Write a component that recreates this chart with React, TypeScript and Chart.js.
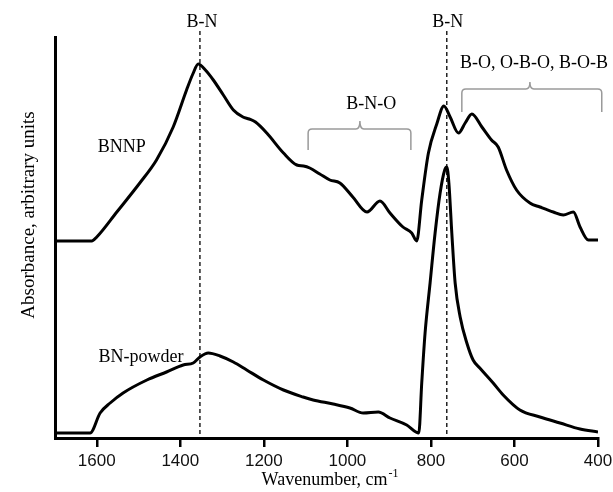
import React, { useEffect, useRef } from "react";
import { Chart, registerables } from "chart.js";

Chart.register(...registerables);

// Wavenumber (cm-1) and absorbance (arbitrary units)
const bnnpWavenumber = [1700, 1650, 1612, 1600, 1552, 1497, 1457, 1417, 1385, 1370, 1357, 1340, 1321, 1297, 1273, 1250, 1235, 1220, 1193, 1153, 1121, 1105, 1090, 1066, 1042, 1018, 987, 953, 922, 898, 867, 846, 834, 822, 806, 786, 769, 754, 734, 718, 702, 678, 655, 639, 619, 595, 563, 539, 507, 483, 459, 443, 423, 400];
const bnnpAbsorbance = [197, 197, 197, 201, 226, 255, 278, 311, 348, 364, 374, 368, 358, 343, 328, 321, 319, 316, 305, 285, 273, 272, 270, 264, 258, 255, 241, 226, 237, 225, 211, 205, 197, 238, 285, 314, 332, 321, 305, 315, 324, 311, 298, 291, 268, 248, 235, 231, 226, 223, 226, 211, 198, 198];

const powderWavenumber = [1700, 1650, 1616, 1592, 1568, 1537, 1480, 1433, 1393, 1369, 1353, 1333, 1305, 1273, 1241, 1201, 1153, 1106, 1082, 1034, 994, 962, 926, 898, 858, 829, 822, 814, 802, 790, 778, 767, 762, 757, 750, 742, 730, 714, 699, 683, 651, 627, 587, 539, 491, 443, 400];
const powderAbsorbance = [5, 5, 5, 25, 35, 45, 58, 66, 73, 75, 81, 85, 82, 76, 68, 58, 48, 41, 38, 34, 30, 25, 26, 20, 13, 5, 55, 105, 155, 205, 245, 268, 271, 255, 205, 155, 121, 95, 78, 70, 55, 43, 28, 21, 15, 9, 6];

// Dashed reference lines (B-N bands)
const bandWavenumbers = [1353, 762];
const bandSpan = [4, 408];

const xTickStep = 200;

// Annotation texts and braces, in data units
const labels = [
  { text: "B-N", x: 1348, y: 416 },
  { text: "B-N", x: 760, y: 416 },
  { text: "B-N-O", x: 943, y: 334 },
  { text: "B-O, O-B-O, B-O-B", x: 553, y: 375 },
  { text: "BNNP", x: 1540, y: 291 },
  { text: "BN-powder", x: 1494, y: 81 },
];
const braces = [
  { left: 1094, right: 848, tip: 970, line: 309, top: 317, end: 288 },
  { left: 726, right: 391, tip: 563, line: 349, top: 356, end: 326 },
];

const SERIF = "'Liberation Serif', 'Times New Roman', serif";
const SANS = "'Liberation Sans', Arial, sans-serif";

const annotationPlugin = {
  id: "annotations",
  afterDraw(chart: any) {
    const ctx = chart.ctx;
    const xs = chart.scales.x;
    const ys = chart.scales.y;
    ctx.save();
    // braces
    ctx.strokeStyle = "#9a9a9a";
    ctx.lineWidth = 1.5;
    const r = 4;
    braces.forEach((b) => {
      const xl = xs.getPixelForValue(b.left);
      const xr = xs.getPixelForValue(b.right);
      const xt = xs.getPixelForValue(b.tip);
      const yl = ys.getPixelForValue(b.line);
      const yt = ys.getPixelForValue(b.top);
      const ye = ys.getPixelForValue(b.end);
      ctx.beginPath();
      ctx.moveTo(xl, ye);
      ctx.lineTo(xl, yl + r);
      ctx.quadraticCurveTo(xl, yl, xl + r, yl);
      ctx.lineTo(xt - r, yl);
      ctx.quadraticCurveTo(xt, yl, xt, yt);
      ctx.quadraticCurveTo(xt, yl, xt + r, yl);
      ctx.lineTo(xr - r, yl);
      ctx.quadraticCurveTo(xr, yl, xr, yl + r);
      ctx.lineTo(xr, ye);
      ctx.stroke();
    });
    // labels
    ctx.fillStyle = "#000";
    ctx.font = `18px ${SERIF}`;
    ctx.textAlign = "center";
    ctx.textBaseline = "middle";
    labels.forEach((l) => {
      ctx.fillText(l.text, xs.getPixelForValue(l.x), ys.getPixelForValue(l.y));
    });
    // x axis title with superscript
    const main = "Wavenumber, cm";
    const sup = "-1";
    ctx.font = `18px ${SERIF}`;
    const wMain = ctx.measureText(main).width;
    ctx.font = `12px ${SERIF}`;
    const wSup = ctx.measureText(sup).width;
    const cx = (xs.left + xs.right) / 2 + 3;
    const startX = cx - (wMain + wSup) / 2;
    ctx.textAlign = "left";
    ctx.textBaseline = "alphabetic";
    ctx.font = `18px ${SERIF}`;
    ctx.fillText(main, startX, 485);
    ctx.font = `12px ${SERIF}`;
    ctx.fillText(sup, startX + wMain + 1, 477);
    // y axis title
    ctx.translate(29, 215);
    ctx.rotate(-Math.PI / 2);
    ctx.font = `19px ${SERIF}`;
    ctx.textAlign = "center";
    ctx.textBaseline = "middle";
    ctx.fillText("Absorbance, arbitrary units", 0, 0);
    ctx.restore();
  },
};

export default function App() {
  const canvasRef = useRef<HTMLCanvasElement | null>(null);

  useEffect(() => {
    if (!canvasRef.current) return;
    const toPoints = (xs: number[], ys: number[]) => xs.map((x, i) => ({ x, y: ys[i] }));
    const bandSets = bandWavenumbers.map((w) => ({
      label: `band ${w}`,
      data: bandSpan.map((v) => ({ x: w, y: v })),
      borderColor: "#000",
      borderWidth: 1.3,
      borderDash: [4, 3],
      pointRadius: 0,
      clip: false as any,
      tension: 0,
    }));
    const chart = new Chart(canvasRef.current, {
      type: "line",
      data: {
        datasets: [
          {
            label: "BNNP",
            data: toPoints(bnnpWavenumber, bnnpAbsorbance),
            borderColor: "#000",
            borderWidth: 3,
            pointRadius: 0,
            cubicInterpolationMode: "monotone",
          },
          {
            label: "BN-powder",
            data: toPoints(powderWavenumber, powderAbsorbance),
            borderColor: "#000",
            borderWidth: 3,
            pointRadius: 0,
            cubicInterpolationMode: "monotone",
          },
          ...bandSets,
        ] as any,
      },
      options: {
        animation: false,
        responsive: false,
        devicePixelRatio: 1,
        layout: { padding: { left: 0, right: 15, top: 37, bottom: 0 } },
        plugins: { legend: { display: false }, tooltip: { enabled: false } },
        scales: {
          x: {
            type: "linear",
            min: 400,
            max: 1700,
            reverse: true,
            position: "bottom",
            ticks: {
              stepSize: xTickStep,
              includeBounds: false,
              color: "#111",
              padding: 4,
              maxRotation: 0,
              font: { family: SANS, size: 17 },
              callback: (v: any) => String(v),
            },
            grid: {
              display: true,
              drawOnChartArea: false,
              drawTicks: true,
              tickLength: 9,
              color: "#000",
              lineWidth: 2.5,
            },
            border: { display: true, color: "#000", width: 3 },
            afterFit: (s: any) => {
              s.height = 54;
              s.paddingLeft = 0;
              s.paddingRight = 0;
            },
          },
          y: {
            type: "linear",
            min: 0,
            max: 401,
            ticks: { display: false },
            grid: { display: false, drawTicks: false },
            border: { display: true, color: "#000", width: 3 },
            afterFit: (s: any) => {
              s.width = 55;
              s.paddingTop = 0;
              s.paddingBottom = 0;
            },
          },
        },
      } as any,
      plugins: [annotationPlugin],
    });
    return () => chart.destroy();
  }, []);

  return (
    <div style={{ position: "fixed", left: 0, top: 0, width: 613, height: 492, background: "#fff" }}>
      <canvas ref={canvasRef} width={613} height={492} style={{ display: "block" }} />
    </div>
  );
}
